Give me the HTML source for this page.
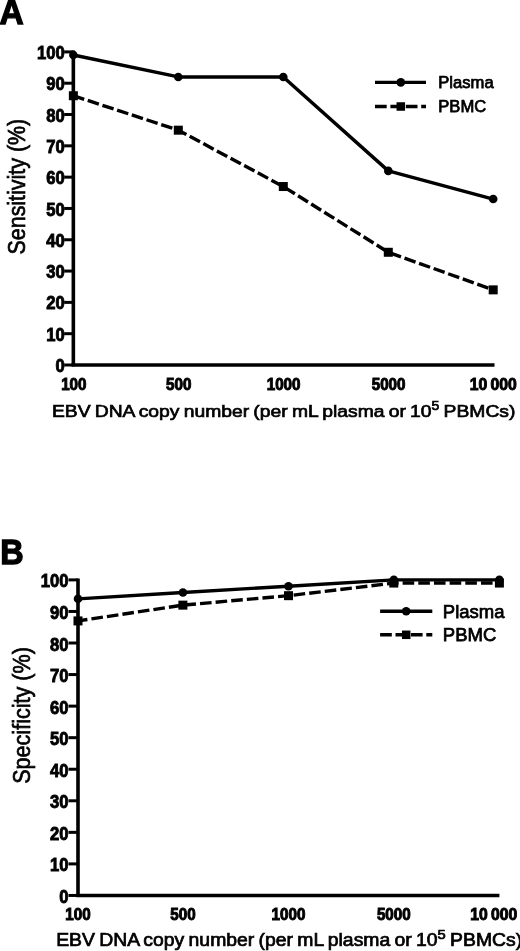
<!DOCTYPE html>
<html><head><meta charset="utf-8"><style>
html,body{margin:0;padding:0;background:#fff;}
svg{display:block;will-change:transform;}
text{font-family:"Liberation Sans",sans-serif;fill:#000;}
.yl{font-size:18.5px;font-weight:bold;stroke:#000;stroke-width:0.9px;}
.xl{font-size:17px;font-weight:bold;stroke:#000;stroke-width:1.0px;}
.lg{font-weight:normal;stroke:#000;stroke-width:0.75px;}
.xt{font-weight:normal;stroke:#000;stroke-width:0.7px;}
.pn{font-size:35.3px;font-weight:bold;stroke:#000;stroke-width:1.3px;}
</style></head><body>
<svg width="520" height="951" viewBox="0 0 520 951">
<line x1="73.35" y1="50.40" x2="73.35" y2="365.00" stroke="#000" stroke-width="3.6"/>
<line x1="71.55" y1="365.0" x2="494.5" y2="365.0" stroke="#000" stroke-width="3.6"/>
<line x1="64.2" y1="365.00" x2="73.35" y2="365.00" stroke="#000" stroke-width="3.0"/>
<text transform="translate(64.7,372.10) scale(0.9,1)" class="yl" text-anchor="end">0</text>
<line x1="64.2" y1="333.69" x2="73.35" y2="333.69" stroke="#000" stroke-width="3.0"/>
<text transform="translate(64.7,340.79) scale(0.9,1)" class="yl" text-anchor="end">10</text>
<line x1="64.2" y1="302.38" x2="73.35" y2="302.38" stroke="#000" stroke-width="3.0"/>
<text transform="translate(64.7,309.48) scale(0.9,1)" class="yl" text-anchor="end">20</text>
<line x1="64.2" y1="271.07" x2="73.35" y2="271.07" stroke="#000" stroke-width="3.0"/>
<text transform="translate(64.7,278.17) scale(0.9,1)" class="yl" text-anchor="end">30</text>
<line x1="64.2" y1="239.76" x2="73.35" y2="239.76" stroke="#000" stroke-width="3.0"/>
<text transform="translate(64.7,246.86) scale(0.9,1)" class="yl" text-anchor="end">40</text>
<line x1="64.2" y1="208.45" x2="73.35" y2="208.45" stroke="#000" stroke-width="3.0"/>
<text transform="translate(64.7,215.55) scale(0.9,1)" class="yl" text-anchor="end">50</text>
<line x1="64.2" y1="177.14" x2="73.35" y2="177.14" stroke="#000" stroke-width="3.0"/>
<text transform="translate(64.7,184.24) scale(0.9,1)" class="yl" text-anchor="end">60</text>
<line x1="64.2" y1="145.83" x2="73.35" y2="145.83" stroke="#000" stroke-width="3.0"/>
<text transform="translate(64.7,152.93) scale(0.9,1)" class="yl" text-anchor="end">70</text>
<line x1="64.2" y1="114.52" x2="73.35" y2="114.52" stroke="#000" stroke-width="3.0"/>
<text transform="translate(64.7,121.62) scale(0.9,1)" class="yl" text-anchor="end">80</text>
<line x1="64.2" y1="83.21" x2="73.35" y2="83.21" stroke="#000" stroke-width="3.0"/>
<text transform="translate(64.7,90.31) scale(0.9,1)" class="yl" text-anchor="end">90</text>
<line x1="64.2" y1="51.90" x2="73.35" y2="51.90" stroke="#000" stroke-width="3.0"/>
<text transform="translate(64.7,59.00) scale(0.9,1)" class="yl" text-anchor="end">100</text>
<text transform="translate(73.85,389.6) scale(0.895,1)" class="xl" text-anchor="middle">100</text>
<text transform="translate(178.70,389.6) scale(0.895,1)" class="xl" text-anchor="middle">500</text>
<text transform="translate(283.60,389.6) scale(0.895,1)" class="xl" text-anchor="middle">1000</text>
<text transform="translate(388.60,389.6) scale(0.895,1)" class="xl" text-anchor="middle">5000</text>
<text transform="translate(493.20,389.6) scale(0.926325,1)" class="xl" text-anchor="middle">10&#8201;000</text>
<polyline points="73.35,55.03 178.30,76.95 283.30,76.95 388.30,170.88 493.20,199.06" fill="none" stroke="#000" stroke-width="3.4" stroke-linejoin="round"/>
<polyline points="73.35,95.73 178.30,130.18 283.30,186.53 388.30,252.28 493.20,289.86" fill="none" stroke="#000" stroke-width="3.4" stroke-dasharray="11.7 3.76" stroke-dashoffset="0.3" stroke-linejoin="round"/>
<circle cx="73.35" cy="55.03" r="4.3" fill="#000"/>
<circle cx="178.30" cy="76.95" r="4.3" fill="#000"/>
<circle cx="283.30" cy="76.95" r="4.3" fill="#000"/>
<circle cx="388.30" cy="170.88" r="4.3" fill="#000"/>
<circle cx="493.20" cy="199.06" r="4.3" fill="#000"/>
<rect x="68.85" y="91.23" width="9" height="9" fill="#000"/>
<rect x="173.80" y="125.68" width="9" height="9" fill="#000"/>
<rect x="278.80" y="182.03" width="9" height="9" fill="#000"/>
<rect x="383.80" y="247.78" width="9" height="9" fill="#000"/>
<rect x="488.70" y="285.36" width="9" height="9" fill="#000"/>
<line x1="375" y1="82.4" x2="426" y2="82.4" stroke="#000" stroke-width="3.4"/>
<circle cx="400.8" cy="82.4" r="4.3" fill="#000"/>
<line x1="375" y1="106.5" x2="426" y2="106.5" stroke="#000" stroke-width="3.4" stroke-dasharray="11.7 3.7"/>
<rect x="396.55" y="102.25" width="8.5" height="8.5" fill="#000"/>
<text x="438.3" y="87.9" class="lg" style="font-size:16.6px">Plasma</text>
<text x="438.3" y="111.7" class="lg" style="font-size:16.6px">PBMC</text>
<text x="51.9" y="416.8" class="xt" style="font-size:17.3px;word-spacing:-1px" textLength="463.5" lengthAdjust="spacingAndGlyphs">EBV DNA copy number (per mL plasma or 10<tspan dy="-6.6" style="font-size:12.5px">5</tspan><tspan dy="6.6"> PBMCs)</tspan></text>
<text transform="translate(24.6,254.5) rotate(-90) scale(0.893,1)" class="xt" style="font-size:24px">Sensitivity (%)</text>
<text transform="translate(-0.5,23.8) scale(0.95,1)" class="pn">A</text>
<line x1="78.0" y1="578.40" x2="78.0" y2="895.45" stroke="#000" stroke-width="3.6"/>
<line x1="76.20" y1="895.45" x2="499.4" y2="895.45" stroke="#000" stroke-width="3.6"/>
<line x1="68.5" y1="895.45" x2="78.0" y2="895.45" stroke="#000" stroke-width="3.0"/>
<text transform="translate(68.5,902.95) scale(0.9,1)" class="yl" text-anchor="end">0</text>
<line x1="68.5" y1="863.90" x2="78.0" y2="863.90" stroke="#000" stroke-width="3.0"/>
<text transform="translate(68.5,871.40) scale(0.9,1)" class="yl" text-anchor="end">10</text>
<line x1="68.5" y1="832.34" x2="78.0" y2="832.34" stroke="#000" stroke-width="3.0"/>
<text transform="translate(68.5,839.84) scale(0.9,1)" class="yl" text-anchor="end">20</text>
<line x1="68.5" y1="800.79" x2="78.0" y2="800.79" stroke="#000" stroke-width="3.0"/>
<text transform="translate(68.5,808.29) scale(0.9,1)" class="yl" text-anchor="end">30</text>
<line x1="68.5" y1="769.23" x2="78.0" y2="769.23" stroke="#000" stroke-width="3.0"/>
<text transform="translate(68.5,776.73) scale(0.9,1)" class="yl" text-anchor="end">40</text>
<line x1="68.5" y1="737.68" x2="78.0" y2="737.68" stroke="#000" stroke-width="3.0"/>
<text transform="translate(68.5,745.18) scale(0.9,1)" class="yl" text-anchor="end">50</text>
<line x1="68.5" y1="706.12" x2="78.0" y2="706.12" stroke="#000" stroke-width="3.0"/>
<text transform="translate(68.5,713.62) scale(0.9,1)" class="yl" text-anchor="end">60</text>
<line x1="68.5" y1="674.57" x2="78.0" y2="674.57" stroke="#000" stroke-width="3.0"/>
<text transform="translate(68.5,682.07) scale(0.9,1)" class="yl" text-anchor="end">70</text>
<line x1="68.5" y1="643.01" x2="78.0" y2="643.01" stroke="#000" stroke-width="3.0"/>
<text transform="translate(68.5,650.51) scale(0.9,1)" class="yl" text-anchor="end">80</text>
<line x1="68.5" y1="611.46" x2="78.0" y2="611.46" stroke="#000" stroke-width="3.0"/>
<text transform="translate(68.5,618.96) scale(0.9,1)" class="yl" text-anchor="end">90</text>
<line x1="68.5" y1="579.90" x2="78.0" y2="579.90" stroke="#000" stroke-width="3.0"/>
<text transform="translate(68.5,587.40) scale(0.9,1)" class="yl" text-anchor="end">100</text>
<text transform="translate(78.00,919.6) scale(0.895,1)" class="xl" text-anchor="middle">100</text>
<text transform="translate(182.90,919.6) scale(0.895,1)" class="xl" text-anchor="middle">500</text>
<text transform="translate(288.50,919.6) scale(0.895,1)" class="xl" text-anchor="middle">1000</text>
<text transform="translate(393.80,919.6) scale(0.895,1)" class="xl" text-anchor="middle">5000</text>
<text transform="translate(493.70,919.6) scale(0.926325,1)" class="xl" text-anchor="middle">10&#8201;000</text>
<polyline points="78.00,598.83 182.90,592.52 288.50,586.21 393.80,579.90 499.40,579.90" fill="none" stroke="#000" stroke-width="3.4" stroke-linejoin="round"/>
<polyline points="78.00,620.92 182.90,605.14 288.50,595.68 393.80,583.06 499.40,583.06" fill="none" stroke="#000" stroke-width="3.4" stroke-dasharray="11.6 4.07" stroke-dashoffset="2.1" stroke-linejoin="round"/>
<circle cx="78.00" cy="598.83" r="4.3" fill="#000"/>
<circle cx="182.90" cy="592.52" r="4.3" fill="#000"/>
<circle cx="288.50" cy="586.21" r="4.3" fill="#000"/>
<circle cx="393.80" cy="579.90" r="4.3" fill="#000"/>
<circle cx="499.40" cy="579.90" r="4.3" fill="#000"/>
<rect x="73.50" y="616.42" width="9" height="9" fill="#000"/>
<rect x="178.40" y="600.64" width="9" height="9" fill="#000"/>
<rect x="284.00" y="591.18" width="9" height="9" fill="#000"/>
<rect x="389.30" y="578.56" width="9" height="9" fill="#000"/>
<rect x="494.90" y="578.56" width="9" height="9" fill="#000"/>
<line x1="380.1" y1="611.2" x2="432.3" y2="611.2" stroke="#000" stroke-width="3.4"/>
<circle cx="406.2" cy="611.2" r="4.3" fill="#000"/>
<line x1="380.1" y1="634.8" x2="432.3" y2="634.8" stroke="#000" stroke-width="3.4" stroke-dasharray="11.7 3.7"/>
<rect x="401.95" y="630.55" width="8.5" height="8.5" fill="#000"/>
<text x="442.8" y="617.5" class="lg" style="font-size:18.5px">Plasma</text>
<text x="442.8" y="641.2" class="lg" style="font-size:18.5px">PBMC</text>
<text x="56.2" y="946.2" class="xt" style="font-size:17.8px;word-spacing:-1px" textLength="466" lengthAdjust="spacingAndGlyphs">EBV DNA copy number (per mL plasma or 10<tspan dy="-6.8" style="font-size:13.5px">5</tspan><tspan dy="6.8"> PBMCs)</tspan></text>
<text transform="translate(29.8,783.8) rotate(-90) scale(0.888,1)" class="xt" style="font-size:24.3px">Specificity (%)</text>
<text transform="translate(0.2,563.8) scale(0.92,1)" class="pn">B</text>
</svg>
</body></html>
